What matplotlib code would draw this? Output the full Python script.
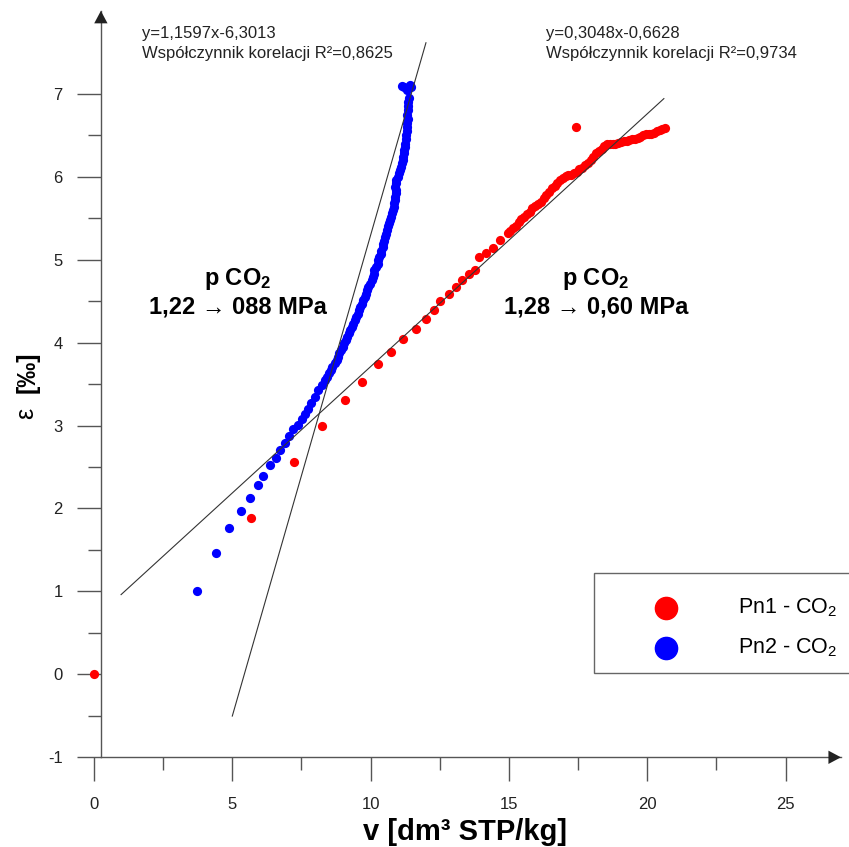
import matplotlib
matplotlib.use("Agg")
import matplotlib.pyplot as plt
from matplotlib.patches import Rectangle

plt.rcParams["font.family"] = ["Liberation Sans", "DejaVu Sans"]
plt.rcParams["mathtext.fontset"] = "custom"
plt.rcParams["mathtext.rm"] = "Liberation Sans"
plt.rcParams["mathtext.bf"] = "Liberation Sans:bold"
plt.rcParams["mathtext.it"] = "Liberation Sans:italic"
plt.rcParams["axes.unicode_minus"] = False

# --- Pn1 - CO2 (red): sparse start, dense band, one outlier at the end
PN1_X = [0.00, 5.67, 7.24, 8.24, 9.06, 9.70, 10.28, 10.73, 11.18, 11.64,
         11.99, 12.29, 12.50, 12.84, 13.08, 13.32, 13.56, 13.77, 13.93, 14.16,
         14.41, 14.67, 14.97,
         15.05, 15.15, 15.25, 15.35, 15.45, 15.55, 15.65, 15.75, 15.85, 15.95,
         16.05, 16.15, 16.25, 16.35, 16.45, 16.55, 16.65, 16.75, 16.85, 16.95,
         17.05, 17.15, 17.25, 17.35, 17.45, 17.55, 17.65, 17.75, 17.85, 17.95,
         18.05, 18.15, 18.25, 18.35, 18.45, 18.55, 18.65, 18.75, 18.85, 18.95,
         19.05, 19.15, 19.25, 19.35, 19.45, 19.55, 19.65, 19.75, 19.85, 19.95,
         20.05, 20.15, 20.25, 20.35, 20.45, 20.55, 20.65,
         17.42]
PN1_Y = [0.00, 1.89, 2.56, 3.00, 3.31, 3.53, 3.74, 3.89, 4.04, 4.17,
         4.28, 4.39, 4.50, 4.58, 4.67, 4.75, 4.83, 4.88, 5.03, 5.08,
         5.14, 5.24, 5.32,
         5.35, 5.38, 5.41, 5.45, 5.49, 5.52, 5.55, 5.58, 5.62, 5.65,
         5.67, 5.70, 5.74, 5.78, 5.82, 5.86, 5.89, 5.93, 5.96, 5.99,
         6.01, 6.02, 6.02, 6.04, 6.06, 6.09, 6.11, 6.14, 6.17, 6.20,
         6.24, 6.28, 6.31, 6.34, 6.37, 6.39, 6.40, 6.40, 6.39, 6.41,
         6.42, 6.43, 6.43, 6.44, 6.45, 6.46, 6.47, 6.48, 6.50, 6.51,
         6.52, 6.52, 6.53, 6.55, 6.56, 6.57, 6.59,
         6.60]

# --- Pn2 - CO2 (blue)
PN2_X = [3.71, 4.41, 4.89, 5.31, 5.63, 5.93, 6.12, 6.36, 6.58, 6.72,
         6.92, 7.06, 7.20, 7.36, 7.51, 7.63, 7.72, 7.84, 7.99, 8.11,
         8.23, 8.35,
         8.44, 8.50, 8.55, 8.60, 8.73, 8.78, 8.83, 8.87, 8.93, 9.00,
         9.05, 9.10, 9.15, 9.22, 9.26, 9.33, 9.37, 9.42, 9.48, 9.54,
         9.58, 9.63, 9.68, 9.72, 9.79, 9.84, 9.88, 9.92, 9.97, 10.04,
         10.07, 10.11, 10.14, 10.20, 10.25, 10.28, 10.31, 10.36, 10.39, 10.43,
         10.46, 10.50, 10.53, 10.57, 10.61, 10.64, 10.67, 10.70, 10.74, 10.79,
         10.82, 10.83, 10.86, 10.88, 10.89, 10.90, 10.90, 10.89, 10.90, 10.93,
         10.98, 11.03, 11.07, 11.10, 11.13, 11.16, 11.18, 11.20, 11.21, 11.23,
         11.25, 11.27, 11.29, 11.31, 11.32, 11.33, 11.34, 11.33, 11.35, 11.36,
         11.35, 11.37, 11.30, 11.20, 11.12, 11.42, 11.45]
PN2_Y = [1.00, 1.46, 1.77, 1.97, 2.13, 2.28, 2.39, 2.52, 2.61, 2.70,
         2.79, 2.87, 2.96, 3.01, 3.08, 3.14, 3.20, 3.27, 3.35, 3.43,
         3.49, 3.55,
         3.59, 3.63, 3.67, 3.71, 3.75, 3.79, 3.83, 3.87, 3.91, 3.95,
         3.99, 4.03, 4.07, 4.11, 4.15, 4.19, 4.23, 4.27, 4.31, 4.35,
         4.39, 4.43, 4.47, 4.51, 4.55, 4.59, 4.63, 4.67, 4.71, 4.75,
         4.79, 4.83, 4.87, 4.91, 4.95, 4.99, 5.03, 5.07, 5.11, 5.15,
         5.19, 5.23, 5.27, 5.31, 5.36, 5.40, 5.44, 5.48, 5.52, 5.56,
         5.60, 5.64, 5.68, 5.72, 5.76, 5.80, 5.84, 5.88, 5.92, 5.96,
         6.00, 6.04, 6.08, 6.12, 6.16, 6.20, 6.24, 6.28, 6.32, 6.36,
         6.40, 6.45, 6.50, 6.55, 6.60, 6.65, 6.70, 6.75, 6.80, 6.85,
         6.90, 6.95, 7.05, 7.08, 7.09, 7.10, 7.08]

# trend lines: (slope, intercept, x_start, x_end)
# Pn1 line is drawn with +0.6628 in the source figure, although its label says -0,6628
FIT_PN1 = (0.3048, 0.6628, 0.98, 20.6)
FIT_PN2 = (1.1597, -6.3013, 5.0, 12.0)

X_TICKS = [0, 5, 10, 15, 20, 25]
X_MINOR = [2.5, 7.5, 12.5, 17.5, 22.5]
Y_TICKS = [-1, 0, 1, 2, 3, 4, 5, 6, 7]
Y_MINOR = [-0.5, 0.5, 1.5, 2.5, 3.5, 4.5, 5.5, 6.5]

RED = "#ff0000"
BLUE = "#0000ff"
AXIS = "#555555"

fig = plt.figure(figsize=(8.49, 8.47), dpi=100)
fig.patch.set_facecolor("white")
ax = fig.add_axes([0.1009, 0.1059, 0.8896, 0.8813])
ax.set_xlim(-0.3, 27.0)
ax.set_ylim(-1.0, 8.0)

for name in ("top", "right"):
    ax.spines[name].set_visible(False)
ax.spines["left"].set_position(("data", 0.25))
ax.spines["left"].set_bounds(-1.0, 8.0)
ax.spines["bottom"].set_bounds(0.25, 27.0)
for name in ("left", "bottom"):
    ax.spines[name].set_color(AXIS)
    ax.spines[name].set_linewidth(1.0)

ax.set_xticks(X_TICKS)
ax.set_xticks(X_MINOR, minor=True)
ax.set_yticks(Y_TICKS)
ax.set_yticks(Y_MINOR, minor=True)
ax.tick_params(which="major", direction="out", length=17.5, width=1.0,
               color=AXIS, labelsize=12, labelcolor="#222222")
ax.tick_params(which="minor", direction="out", length=9.4, width=1.0, color=AXIS)
ax.tick_params(axis="x", which="major", pad=11)
ax.tick_params(axis="y", which="major", pad=10)

# axis arrows
arrow = dict(arrowstyle="-|>,head_length=0.45,head_width=0.24", color="#222222",
             lw=0, mutation_scale=20, shrinkA=0, shrinkB=0)
ax.annotate("", xy=(0.25, 8.0), xytext=(0.25, 7.6), arrowprops=arrow,
            annotation_clip=False)
ax.annotate("", xy=(27.0, -1.0), xytext=(26.0, -1.0), arrowprops=arrow,
            annotation_clip=False)

# trend lines
for slope, icpt, x0, x1 in (FIT_PN1, FIT_PN2):
    ax.plot([x0, x1], [slope * x0 + icpt, slope * x1 + icpt],
            color="#333333", lw=0.8, zorder=3)

ax.scatter(PN1_X, PN1_Y, s=44, c=RED, linewidths=0, zorder=2, clip_on=False)
ax.scatter(PN2_X, PN2_Y, s=44, c=BLUE, linewidths=0, zorder=2, clip_on=False)

# equations
ax.text(1.73, 7.67, "y=1,1597x-6,3013", fontsize=12, color="#222222", va="baseline")
ax.text(1.73, 7.43, "Współczynnik korelacji R²=0,8625", fontsize=12,
        color="#222222", va="baseline")
ax.text(16.34, 7.67, "y=0,3048x-0,6628", fontsize=12, color="#222222", va="baseline")
ax.text(16.34, 7.43, "Współczynnik korelacji R²=0,9734", fontsize=12,
        color="#222222", va="baseline")

# pressure annotations
for xc, label in ((5.20, "1,22 → 088 MPa"), (18.14, "1,28 → 0,60 MPa")):
    ax.text(xc, 4.69, r"p CO$_\mathbf{2}$", fontsize=17, fontweight="bold",
            ha="center", va="baseline")
    ax.text(xc, 4.35, label, fontsize=17, fontweight="bold",
            ha="center", va="baseline")

# axis labels
fig.text(0.548, 0.008, "v [dm³ STP/kg]", fontsize=21, fontweight="bold",
         ha="center", va="baseline")
fig.text(0.031, 0.512, "ε", fontsize=18, rotation=90, ha="center", va="center")
fig.text(0.032, 0.560, "[‰]", fontsize=18, fontweight="bold", rotation=90,
         ha="center", va="center")

# legend box (runs past the right edge as in the source)
fig.patches.append(Rectangle((0.6996, 0.2054), 0.40, 0.118, transform=fig.transFigure,
                             facecolor="white", edgecolor="#666666", lw=1.0))
fig.lines.append(plt.Line2D([0.7845], [1 - 608 / 847], transform=fig.transFigure,
                            marker="o", ms=16, color=RED, ls="none"))
fig.lines.append(plt.Line2D([0.7845], [1 - 648 / 847], transform=fig.transFigure,
                            marker="o", ms=16, color=BLUE, ls="none"))
fig.text(0.869, 1 - 608 / 847, "Pn1 - CO$_2$", fontsize=15.5, va="center")
fig.text(0.869, 1 - 648 / 847, "Pn2 - CO$_2$", fontsize=15.5, va="center")

fig.savefig("out.png", dpi=100, facecolor="white")
